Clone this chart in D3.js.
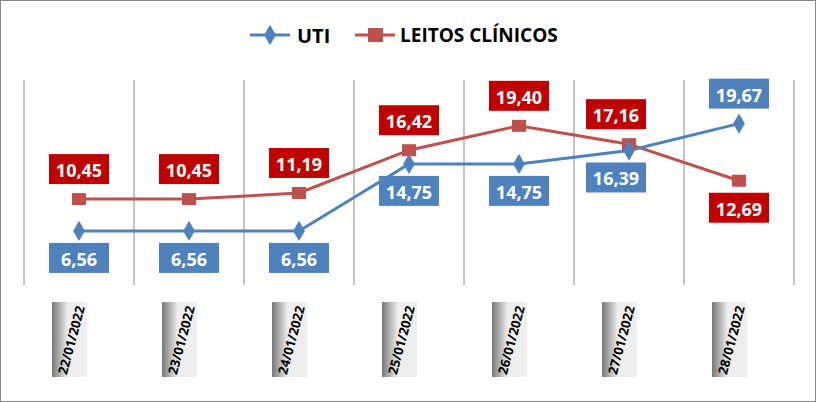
<!DOCTYPE html><html><head><meta charset="utf-8"><script src="https://cdn.jsdelivr.net/npm/d3@7"></script>
<style>body{margin:0}</style></head><body><svg id="c" width="816" height="402"></svg><script>
const categories=["22/01/2022","23/01/2022","24/01/2022","25/01/2022","26/01/2022","27/01/2022","28/01/2022"];
const uti=[6.56,6.56,6.56,14.75,14.75,16.39,19.67];
const leitos=[10.45,10.45,11.19,16.42,19.40,17.16,12.69];
const utiPos=["below","below","below","below","below","belowleft","above"];
const leitosPos=["above","above","above","above","above","aboveleft","below"];
const svg=d3.select("#c");
const F="'Open Sans','Liberation Sans',Arial,sans-serif";
svg.append("rect").attr("x",0.5).attr("y",0.5).attr("width",815).attr("height",401).attr("fill","#fff").attr("stroke","#888");
const x=d3.scaleBand().domain(categories).range([24,794]);
const y=d3.scaleLinear().domain([0,25]).range([284.6,80]);
const g=svg.append("g");
categories.concat(["end"]).forEach((c,i)=>{const xx=24+i*x.bandwidth();
 g.append("line").attr("x1",xx).attr("x2",xx).attr("y1",80).attr("y2",285).attr("stroke","#888").attr("stroke-width",1);});
const defs=svg.append("defs");
const gr=defs.append("linearGradient").attr("id","gg").attr("x1","0").attr("x2","1").attr("y1","0").attr("y2","0");
gr.append("stop").attr("offset","0").attr("stop-color","#777");
gr.append("stop").attr("offset","0.45").attr("stop-color","#eee");
gr.append("stop").attr("offset","1").attr("stop-color","#eee");
categories.forEach(c=>{const cx=x(c)+x.bandwidth()/2;
 g.append("rect").attr("x",cx-27).attr("y",302).attr("width",35).attr("height",75).attr("fill","url(#gg)");
 g.append("text").attr("transform",`translate(${cx-8},340) rotate(-75)`).attr("text-anchor","middle").attr("dominant-baseline","central")
  .attr("font-family",F).attr("font-weight","bold").attr("font-size",13).text(c);});
const cx=c=>x(c)+x.bandwidth()/2;
const line=d3.line().x((d,i)=>cx(categories[i])).y(d=>y(d));
g.append("path").attr("d",line(leitos)).attr("fill","none").attr("stroke","#C0504D").attr("stroke-width",3);
g.append("path").attr("d",line(uti)).attr("fill","none").attr("stroke","#4F81BD").attr("stroke-width",3);
leitos.forEach((v,i)=>g.append("rect").attr("x",cx(categories[i])-7).attr("y",y(v)-6).attr("width",14).attr("height",12).attr("fill","#C0504D"));
uti.forEach((v,i)=>g.append("path").attr("d",d3.symbol(d3.symbolDiamond,120)()).attr("transform",`translate(${cx(categories[i])},${y(v)})`).attr("fill","#4F81BD"));
function lab(vals,pos,fill){vals.forEach((v,i)=>{let px=cx(categories[i]),py=y(v);const p=pos[i];
 let lx=px,ly=p.startsWith("above")?py-30:py+27; if(p.endsWith("left"))lx-=13;
 const t=v.toFixed(2).replace(".",",");
 g.append("rect").attr("x",lx-30).attr("y",ly-15).attr("width",60).attr("height",30).attr("fill",fill);
 g.append("text").attr("x",lx).attr("y",ly+1).attr("text-anchor","middle").attr("dominant-baseline","central").attr("fill","#fff")
  .attr("font-family",F).attr("font-weight","bold").attr("font-size",18).text(t);});}
lab(leitos,leitosPos,"#C00000");
lab(uti,utiPos,"#4F81BD");
// legend
svg.append("line").attr("x1",250).attr("x2",290).attr("y1",35).attr("y2",35).attr("stroke","#4F81BD").attr("stroke-width",3);
svg.append("path").attr("d",d3.symbol(d3.symbolDiamond,120)()).attr("transform","translate(270,35)").attr("fill","#4F81BD");
svg.append("text").attr("x",297).attr("y",35).attr("dominant-baseline","central").attr("font-family",F).attr("font-weight","bold").attr("font-size",20).text("UTI");
svg.append("line").attr("x1",355).attr("x2",395).attr("y1",35).attr("y2",35).attr("stroke","#C0504D").attr("stroke-width",3);
svg.append("rect").attr("x",368).attr("y",28).attr("width",15).attr("height",14).attr("fill","#C0504D");
svg.append("text").attr("x",400).attr("y",35).attr("dominant-baseline","central").attr("font-family",F).attr("font-weight","bold").attr("font-size",19).text("LEITOS CLÍNICOS");
</script></body></html>
